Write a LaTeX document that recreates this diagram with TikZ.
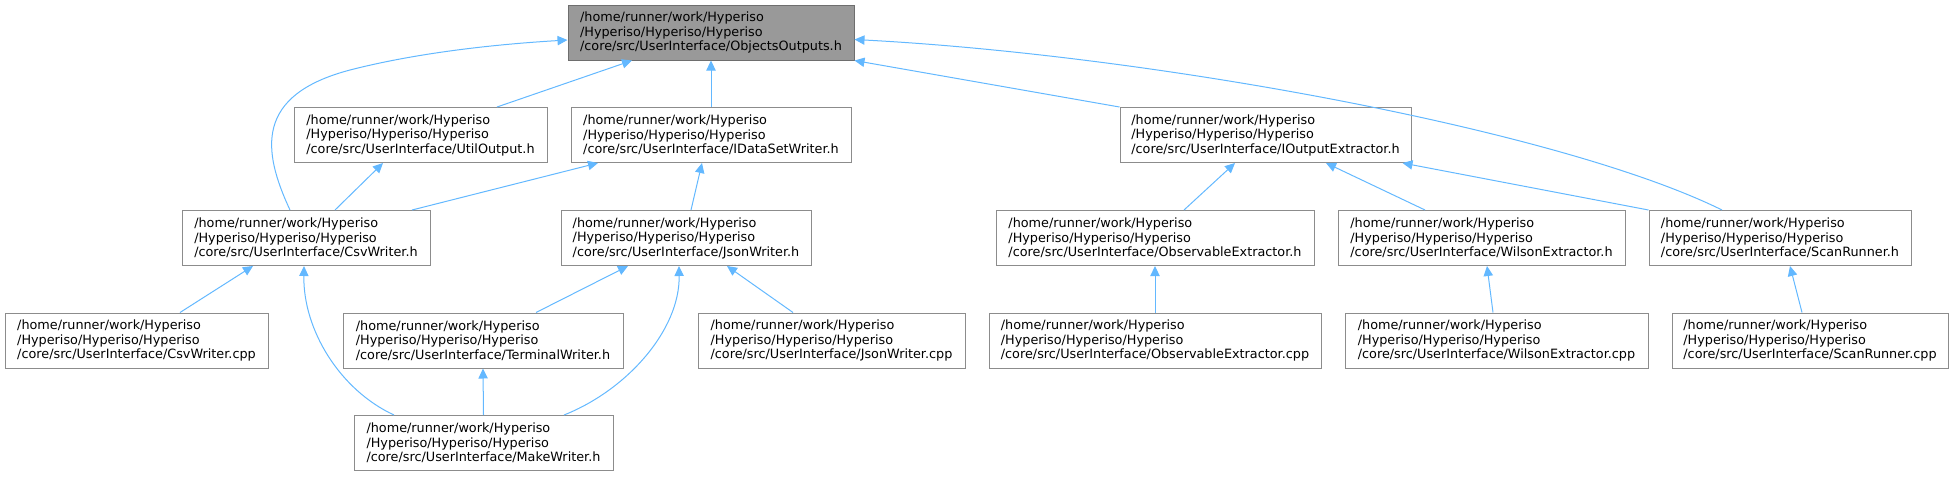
\documentclass[tikz,border=0pt]{standalone}
\usepackage{fontspec}
\setmainfont{DejaVu Sans}
\usetikzlibrary{arrows.meta, positioning, calc}

\definecolor{incblue}{HTML}{63B8FF}
\definecolor{boxgray}{HTML}{8C8C8C}
\definecolor{rootfill}{HTML}{999999}
\definecolor{rootline}{HTML}{6E6E6E}

\begin{document}
\begin{tikzpicture}[x=0.75pt, y=-0.75pt,
    filebox/.style={draw=boxgray, fill=white, line width=0.75pt, align=left, inner sep=0pt,
        minimum height=41.25pt, minimum width=0.75*#1pt, font=\fontsize{9.6pt}{10.9pt}\selectfont},
    rootbox/.style={filebox=#1, fill=rootfill, draw=rootline},
    incl/.style={draw=incblue, line width=0.75pt, -{Triangle[length=7.5pt, width=7pt]}}]
    \useasboundingbox (0,0) rectangle (1953,476);

    \node[rootbox=286] (objout) at (711,32.5) {/home/runner/work/Hyperiso\\/Hyperiso/Hyperiso/Hyperiso\\/core/src/UserInterface/ObjectsOutputs.h};

    \node[filebox=253] (utilout) at (420.5,135) {/home/runner/work/Hyperiso\\/Hyperiso/Hyperiso/Hyperiso\\/core/src/UserInterface/UtilOutput.h};
    \node[filebox=280] (idataset) at (711,135) {/home/runner/work/Hyperiso\\/Hyperiso/Hyperiso/Hyperiso\\/core/src/UserInterface/IDataSetWriter.h};
    \node[filebox=291] (ioutext) at (1265.5,135) {/home/runner/work/Hyperiso\\/Hyperiso/Hyperiso/Hyperiso\\/core/src/UserInterface/IOutputExtractor.h};

    \node[filebox=248] (csvh) at (306,238) {/home/runner/work/Hyperiso\\/Hyperiso/Hyperiso/Hyperiso\\/core/src/UserInterface/CsvWriter.h};
    \node[filebox=250] (jsonh) at (686,238) {/home/runner/work/Hyperiso\\/Hyperiso/Hyperiso/Hyperiso\\/core/src/UserInterface/JsonWriter.h};
    \node[filebox=318] (obsexth) at (1155,238) {/home/runner/work/Hyperiso\\/Hyperiso/Hyperiso/Hyperiso\\/core/src/UserInterface/ObservableExtractor.h};
    \node[filebox=287] (wilsonh) at (1481.5,238) {/home/runner/work/Hyperiso\\/Hyperiso/Hyperiso/Hyperiso\\/core/src/UserInterface/WilsonExtractor.h};
    \node[filebox=262] (scanh) at (1780,238) {/home/runner/work/Hyperiso\\/Hyperiso/Hyperiso/Hyperiso\\/core/src/UserInterface/ScanRunner.h};

    \node[filebox=263] (csvcpp) at (136.5,340.5) {/home/runner/work/Hyperiso\\/Hyperiso/Hyperiso/Hyperiso\\/core/src/UserInterface/CsvWriter.cpp};
    \node[filebox=280] (termh) at (483,340.5) {/home/runner/work/Hyperiso\\/Hyperiso/Hyperiso/Hyperiso\\/core/src/UserInterface/TerminalWriter.h};
    \node[filebox=267] (jsoncpp) at (831.5,340.5) {/home/runner/work/Hyperiso\\/Hyperiso/Hyperiso/Hyperiso\\/core/src/UserInterface/JsonWriter.cpp};
    \node[filebox=332] (obscpp) at (1155,340.5) {/home/runner/work/Hyperiso\\/Hyperiso/Hyperiso/Hyperiso\\/core/src/UserInterface/ObservableExtractor.cpp};
    \node[filebox=303] (wilsoncpp) at (1496.5,340.5) {/home/runner/work/Hyperiso\\/Hyperiso/Hyperiso/Hyperiso\\/core/src/UserInterface/WilsonExtractor.cpp};
    \node[filebox=276] (scancpp) at (1810,340.5) {/home/runner/work/Hyperiso\\/Hyperiso/Hyperiso/Hyperiso\\/core/src/UserInterface/ScanRunner.cpp};

    \node[filebox=259] (makeh) at (483.5,443) {/home/runner/work/Hyperiso\\/Hyperiso/Hyperiso/Hyperiso\\/core/src/UserInterface/MakeWriter.h};

    \draw[incl] ($(csvh.north)+(-16,0)$) .. controls (262,150) and (255,95) .. (350,70)
        .. controls (420,52) and (500,44) .. ($(objout.west)+(0,7.5)$);
    \draw[incl] ($(utilout.north)+(76.5,0)$) -- ($(objout.south)+(-79,0)$);
    \draw[incl] (idataset.north) -- (objout.south);
    \draw[incl] (ioutext.north west) -- (objout.south east);
    \draw[incl] ($(scanh.north)+(-58,0)$) .. controls (1560,130) and (1150,55) .. ($(objout.east)+(0,7)$);

    \draw[incl] ($(csvh.north)+(29,0)$) -- ($(utilout.south)+(-37.5,0)$);
    \draw[incl] ($(csvh.north)+(106,0)$) -- ($(idataset.south)+(-113,0)$);
    \draw[incl] ($(jsonh.north)+(5,0)$) -- ($(idataset.south)+(-9,0)$);
    \draw[incl] ($(obsexth.north)+(29,0)$) -- ($(ioutext.south)+(-30.5,0)$);
    \draw[incl] ($(wilsonh.north)+(-56.5,0)$) -- ($(ioutext.south)+(60.5,0)$);
    \draw[incl] (scanh.north west) -- ($(ioutext.south east)+(-9,0)$);

    \draw[incl] ($(csvcpp.north)+(43.5,0)$) -- ($(csvh.south)+(-53,0)$);
    \draw[incl] ($(makeh.north)+(-89.5,0)$) .. controls (340,390) and (303,330) .. ($(csvh.south)+(-2,0)$);
    \draw[incl] ($(termh.north)+(53,0)$) -- ($(jsonh.south)+(-58,0)$);
    \draw[incl] ($(makeh.north)+(80.5,0)$) .. controls (627,390) and (680,330) .. ($(jsonh.south)+(-7,0)$);
    \draw[incl] ($(jsoncpp.north)+(-38.5,0)$) -- ($(jsonh.south)+(41,0)$);
    \draw[incl] (obscpp.north) -- (obsexth.south);
    \draw[incl] ($(wilsoncpp.north)+(-3.5,0)$) -- ($(wilsonh.south)+(5.5,0)$);
    \draw[incl] ($(scancpp.north)+(-8,0)$) -- ($(scanh.south)+(10,0)$);

    \draw[incl] (makeh.north) -- (termh.south);
\end{tikzpicture}
\end{document}
